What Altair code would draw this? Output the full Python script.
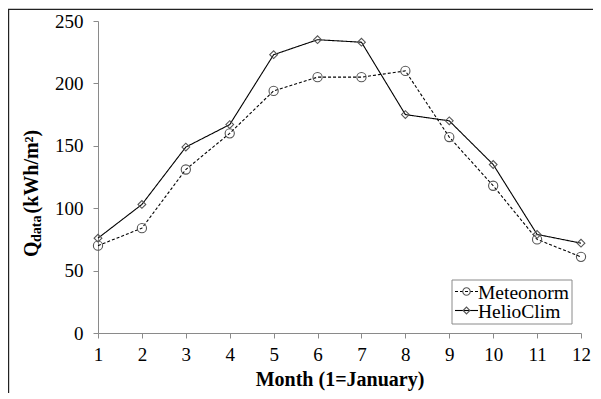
import altair as alt
import pandas as pd

months = list(range(1, 13))
meteonorm = [70, 84, 131, 160, 194, 205, 205, 210, 157, 118, 75, 61]
helioclim = [76, 103, 149, 167, 223, 235, 233, 175, 170, 135, 79, 72]
series_names = ["Meteonorm", "HelioClim"]
y_ticks = [0, 50, 100, 150, 200, 250]

rows = []
for m, a, b in zip(months, meteonorm, helioclim):
    rows.append({"month": m, "value": a, "series": "Meteonorm"})
    rows.append({"month": m, "value": b, "series": "HelioClim"})
df = pd.DataFrame(rows)

FONT = "Liberation Serif"
AX = "#8a8a8a"

x = alt.X("month:Q",
          scale=alt.Scale(domain=[1, 12], nice=False, zero=False),
          axis=alt.Axis(values=months, title="Month (1=January)", grid=False,
                        labelFlush=False, labelOverlap=False, tickSize=5,
                        labelPadding=7, titleBaseline="alphabetic", titleY=52))
y = alt.Y("value:Q",
          scale=alt.Scale(domain=[0, 250], nice=False),
          axis=alt.Axis(values=y_ticks, title=None, grid=False, tickSize=5,
                        labelPadding=10))

lines = alt.Chart(df).mark_line(color="black", strokeWidth=1.1).encode(
    x=x, y=y,
    detail="series:N",
    strokeDash=alt.StrokeDash("series:N",
                              scale=alt.Scale(domain=series_names, range=[[3, 2], [1, 0]]),
                              legend=None),
)
points = alt.Chart(df).mark_point(filled=False, color="#555555", strokeWidth=1.1, opacity=1).encode(
    x=x, y=y,
    shape=alt.Shape("series:N",
                    scale=alt.Scale(domain=series_names, range=["circle", "diamond"]),
                    legend=None),
    size=alt.Size("series:N",
                  scale=alt.Scale(domain=series_names, range=[85, 60]),
                  legend=None),
)

one = pd.DataFrame({"a": [0]})

# Manual legend
leg_box = alt.Chart(one).mark_rect(
    fill="white", stroke="#8a8a8a", strokeWidth=1).encode(
    x=alt.value(354), x2=alt.value(474), y=alt.value(259), y2=alt.value(303))
leg_line1 = alt.Chart(one).mark_rule(
    color="black", strokeWidth=1.1, strokeDash=[3, 2]).encode(
    x=alt.value(357), x2=alt.value(380), y=alt.value(270.5))
leg_line2 = alt.Chart(one).mark_rule(
    color="black", strokeWidth=1.1).encode(
    x=alt.value(357), x2=alt.value(380), y=alt.value(289.5))
leg_pt1 = alt.Chart(one).mark_point(
    filled=False, color="#555555", shape="circle", size=55, strokeWidth=1.1, opacity=1).encode(
    x=alt.value(368.5), y=alt.value(270.5))
leg_pt2 = alt.Chart(one).mark_point(
    filled=False, color="#555555", shape="diamond", size=45, strokeWidth=1.1, opacity=1).encode(
    x=alt.value(368.5), y=alt.value(289.5))


def txt(t, xpos, ypos, size, weight="normal", angle=0, baseline="middle"):
    return alt.Chart(pd.DataFrame({"t": [t]})).mark_text(
        font=FONT, fontSize=size, fontWeight=weight, angle=angle, align="left",
        baseline=baseline, color="black").encode(
        x=alt.value(xpos), y=alt.value(ypos), text="t:N")


leg_t1 = txt(series_names[0], 380, 271.5, 19.5)
leg_t2 = txt(series_names[1], 380, 290.5, 19.5)

# Y title with subscript
yt1 = txt("Q", -60.5, 236, 20, "bold", 270, "alphabetic")
yt2 = txt("data", -57.5, 221, 14, "bold", 270, "alphabetic")
yt3 = txt("(kWh/m²)", -60.5, 192.5, 20, "bold", 270, "alphabetic")

# Figure frame (top and left edges)
frame_top = alt.Chart(one).mark_rule(color="#222222", strokeWidth=1.2).encode(
    x=alt.value(-90), x2=alt.value(500), y=alt.value(-11.7))
frame_left = alt.Chart(one).mark_rule(color="#222222", strokeWidth=1.2).encode(
    x=alt.value(-89.4), y=alt.value(-11.7), y2=alt.value(380))

chart = alt.layer(
    frame_top, frame_left, lines, points, leg_box, leg_line1, leg_line2, leg_pt1, leg_pt2,
    leg_t1, leg_t2, yt1, yt2, yt3
).properties(
    width=483, height=312,
    autosize=alt.AutoSizeParams(type="none"),
    padding={"left": 90, "top": 13, "right": 12, "bottom": 60},
).configure_view(stroke=None).configure_axis(
    domainColor=AX, tickColor=AX, labelColor="black", labelFont=FONT, labelFontSize=19,
    titleFont=FONT, titleFontSize=20, titleFontWeight="bold", titleColor="black",
    domainWidth=1, tickWidth=1,
)

chart.save("out.html", embed_options={"renderer": "svg", "actions": False})
